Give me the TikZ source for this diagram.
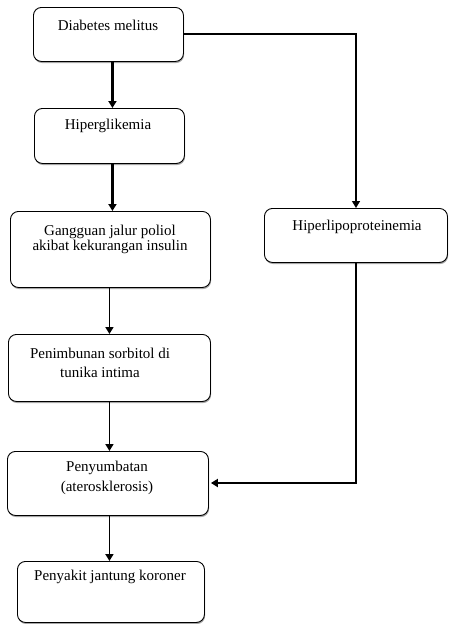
\documentclass[tikz,border=0pt]{standalone}
\usepackage{fontspec}
\setmainfont{Liberation Serif}
\usetikzlibrary{arrows.meta,shadows}
\begin{document}
\begin{tikzpicture}[x=1pt,y=-1pt,
  box/.style={draw=black,line width=0.9pt,rounded corners=8pt,fill=white,
    drop shadow={shadow xshift=0.6pt,shadow yshift=-1.6pt,fill=gray!70,opacity=1},
    anchor=north west,inner sep=0pt},
  txt/.style={font=\fontsize{15}{17}\selectfont,inner sep=0pt,align=center},
  tip/.style={-{Triangle[width=8pt,length=7pt]}},
  arr/.style={line width=1.7pt,tip},
  thickarr/.style={line width=2.5pt,tip},
  ln/.style={line width=1.4pt}]
\useasboundingbox (0,0) rectangle (449,624);
% boxes
\node[box,minimum width=150pt,minimum height=54pt] (b1) at (33,7) {};
\node[box,minimum width=150pt,minimum height=55pt] (b2) at (34,108) {};
\node[box,minimum width=200pt,minimum height=76pt] (b3) at (10,211) {};
\node[box,minimum width=183pt,minimum height=54pt] (b4) at (264,208) {};
\node[box,minimum width=202pt,minimum height=67pt] (b5) at (8,334) {};
\node[box,minimum width=201pt,minimum height=64pt] (b6) at (7,451) {};
\node[box,minimum width=187pt,minimum height=61pt] (b7) at (17,561) {};
% texts
\node[txt] (t1) at (108,25) {Diabetes melitus};
\node[txt] (t2) at (108,126) {Hiperglikemia};
\node[txt] (t3) at (110,239) {Gangguan jalur poliol\\[-2pt]akibat kekurangan insulin};
\node[txt] (t4) at (357,227) {Hiperlipoproteinemia};
\node[txt] (t5) at (100,363) {Penimbunan sorbitol di\\[2pt]tunika intima};
\node[txt] (t6) at (107,478) {Penyumbatan\\[3pt](aterosklerosis)};
\node[txt] (t7) at (110,577) {Penyakit jantung koroner};
% connectors
\draw[thickarr] ([xshift=4pt]b1.south) -- ([xshift=4pt]b1.south |- b2.north);
\draw[thickarr] ([xshift=4pt]b1.south |- b2.south) -- ([xshift=4pt]b1.south |- b3.north);
\draw[arr] ([xshift=1pt]b1.south |- b3.south) -- ([xshift=1pt]b1.south |- b5.north);
\draw[arr] ([xshift=1pt]b1.south |- b5.south) -- ([xshift=1pt]b1.south |- b6.north);
\draw[arr] ([xshift=1pt]b1.south |- b6.south) -- ([xshift=1pt]b1.south |- b7.north);
\draw[ln,tip] (b1.east |- 0,34) -- (356,34) -- (356,208);
\draw[line width=1.8pt,tip] (356,262) -- (356,483) -- ([xshift=2pt]b6.east |- 0,483);
\end{tikzpicture}
\end{document}
